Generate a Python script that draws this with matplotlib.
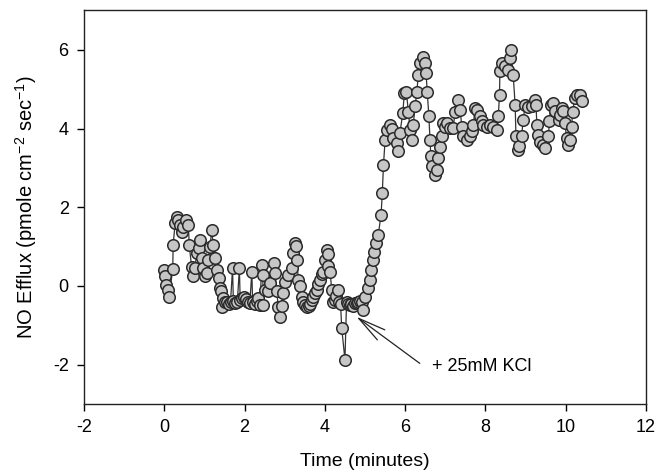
import matplotlib
matplotlib.use("Agg")
import matplotlib.pyplot as plt

plt.rcParams['font.family'] = ['Liberation Sans', 'DejaVu Sans']
plt.rcParams['axes.unicode_minus'] = False
plt.rcParams['mathtext.fontset'] = 'custom'
plt.rcParams['mathtext.rm'] = 'Liberation Sans'
plt.rcParams['mathtext.it'] = 'Liberation Sans'
plt.rcParams['mathtext.default'] = 'rm'

# time (minutes) and NO efflux
t = [0.00, 0.02, 0.04, 0.10, 0.12, 0.21, 0.22, 0.27, 0.31, 0.35, 0.39, 0.43, 0.47,
     0.54, 0.60, 0.62, 0.68, 0.72, 0.76, 0.81, 0.87, 0.89, 0.93, 0.96, 1.01, 1.06,
     1.10, 1.14, 1.18, 1.22, 1.26, 1.31, 1.35, 1.39, 1.41, 1.44, 1.47, 1.51, 1.55,
     1.60, 1.65, 1.70, 1.72, 1.77, 1.82, 1.87, 1.89, 1.94, 1.99, 2.03, 2.08, 2.13,
     2.18, 2.20, 2.25, 2.30, 2.34, 2.38, 2.43, 2.45, 2.47, 2.51, 2.59, 2.63, 2.72,
     2.76, 2.80, 2.84, 2.88, 2.92, 2.96, 3.01, 3.09, 3.17, 3.21, 3.26, 3.28, 3.30,
     3.34, 3.38, 3.42, 3.46, 3.51, 3.55, 3.60, 3.63, 3.67, 3.71, 3.76, 3.80, 3.84,
     3.88, 3.92, 3.96, 4.00, 4.05, 4.07, 4.09, 4.13, 4.17, 4.21, 4.25, 4.28, 4.33,
     4.36, 4.39, 4.42, 4.50, 4.54, 4.58, 4.62, 4.66, 4.70, 4.74, 4.79, 4.83, 4.88,
     4.92, 4.96, 5.00, 5.08, 5.12, 5.16, 5.20, 5.23, 5.27, 5.33, 5.40, 5.43, 5.46,
     5.50, 5.54, 5.61, 5.66, 5.70, 5.79, 5.83, 5.87, 5.94, 5.98, 6.03, 6.08, 6.12,
     6.16, 6.20, 6.25, 6.29, 6.33, 6.37, 6.44, 6.50, 6.52, 6.55, 6.59, 6.62, 6.64,
     6.68, 6.74, 6.80, 6.83, 6.87, 6.91, 6.95, 6.99, 7.04, 7.12, 7.20, 7.24, 7.32,
     7.37, 7.41, 7.45, 7.53, 7.62, 7.66, 7.70, 7.74, 7.78, 7.86, 7.91, 7.95, 8.03,
     8.11, 8.20, 8.28, 8.32, 8.35, 8.36, 8.40, 8.49, 8.57, 8.61, 8.63, 8.69, 8.74,
     8.76, 8.82, 8.84, 8.90, 8.94, 8.99, 9.07, 9.15, 9.24, 9.26, 9.28, 9.32, 9.36,
     9.44, 9.48, 9.57, 9.59, 9.63, 9.69, 9.73, 9.82, 9.86, 9.90, 9.94, 9.98, 10.02,
     10.06, 10.11, 10.15, 10.17, 10.23, 10.27, 10.36, 10.40]
no_efflux = [0.41, 0.24, 0.03, -0.10, -0.27, 0.43, 1.04, 1.60, 1.76, 1.68, 1.55, 1.38, 1.50,
             1.68, 1.55, 1.04, 0.49, 0.24, 0.45, 0.84, 0.97, 1.17, 0.71, 0.45, 0.24, 0.32,
             0.66, 1.00, 1.42, 1.04, 0.71, 0.41, 0.20, -0.05, -0.14, -0.53, -0.31, -0.40, -0.42,
             -0.45, -0.40, 0.45, -0.38, -0.44, -0.40, 0.45, -0.35, -0.30, -0.27, -0.33, -0.42, -0.44,
             0.36, -0.40, -0.45, -0.38, -0.31, -0.48, 0.53, 0.28, -0.48, -0.10, -0.14, 0.07, 0.58,
             0.33, -0.14, -0.53, -0.78, -0.50, -0.18, 0.11, 0.28, 0.46, 0.84, 1.09, 1.02, 0.66,
             0.15, 0.00, -0.27, -0.40, -0.48, -0.53, -0.50, -0.45, -0.35, -0.28, -0.19, -0.10, 0.05,
             0.15, 0.30, 0.36, 0.66, 0.92, 0.80, 0.50, 0.36, -0.10, -0.40, -0.35, -0.25, -0.10,
             -0.40, -0.45, -1.08, -1.88, -0.40, -0.45, -0.48, -0.45, -0.50, -0.44, -0.44, -0.40, -0.38,
             -0.40, -0.62, -0.27, -0.06, 0.15, 0.41, 0.66, 0.87, 1.09, 1.30, 1.81, 2.36, 3.08,
             3.71, 3.97, 4.10, 4.00, 3.76, 3.63, 3.42, 3.89, 4.39, 4.90, 4.92, 4.43, 3.97,
             3.71, 4.10, 4.56, 4.94, 5.37, 5.67, 5.83, 5.67, 5.41, 4.94, 4.31, 3.71, 3.29,
             3.04, 2.82, 2.95, 3.25, 3.54, 3.80, 4.14, 4.05, 4.15, 4.01, 4.01, 4.43, 4.73,
             4.48, 4.05, 3.80, 3.71, 3.80, 3.93, 4.10, 4.52, 4.48, 4.31, 4.20, 4.10, 4.05,
             4.10, 4.05, 3.97, 4.31, 4.86, 5.45, 5.67, 5.60, 5.50, 5.80, 5.99, 5.37, 4.60,
             3.80, 3.46, 3.55, 3.80, 4.22, 4.60, 4.55, 4.56, 4.73, 4.60, 4.10, 3.84, 3.65,
             3.59, 3.50, 3.80, 4.18, 4.60, 4.65, 4.45, 4.22, 4.35, 4.52, 4.45, 4.14, 3.76,
             3.59, 3.70, 4.05, 4.43, 4.77, 4.86, 4.86, 4.69]

x_ticks = [-2, 0, 2, 4, 6, 8, 10, 12]
y_ticks = [-2, 0, 2, 4, 6]

fig = plt.figure(figsize=(6.58, 4.72), dpi=100)
ax = fig.add_axes([0.1277, 0.1441, 0.8541, 0.8337])

ax.plot(t, no_efflux, '-', color='#333333', lw=0.9, zorder=2)
ax.plot(t, no_efflux, 'o', ms=8.3, mfc='#c6c6c6', mec='#2a2a2a', mew=1.1, zorder=3)

ax.annotate('', xy=(4.73, -0.74), xytext=(6.42, -2.01),
            arrowprops=dict(arrowstyle='->,head_length=2.0,head_width=0.45',
                            color='#222222', lw=0.9))
ax.text(6.67, -2.05, '+ 25mM KCl', fontsize=13, va='center', ha='left')

ax.set_xlim(-2, 12)
ax.set_ylim(-3, 7)
ax.set_xticks(x_ticks)
ax.set_yticks(y_ticks)
ax.tick_params(direction='out', length=5, width=1, labelsize=13, pad=6)
for s in ax.spines.values():
    s.set_linewidth(1.0)
    s.set_color('#222222')

ax.set_xlabel('Time (minutes)', fontsize=14, labelpad=12)
ax.set_ylabel('NO Efflux (pmole cm$^{-2}$ sec$^{-1}$)', fontsize=14.5, labelpad=10)

fig.savefig('out.png', dpi=100)
